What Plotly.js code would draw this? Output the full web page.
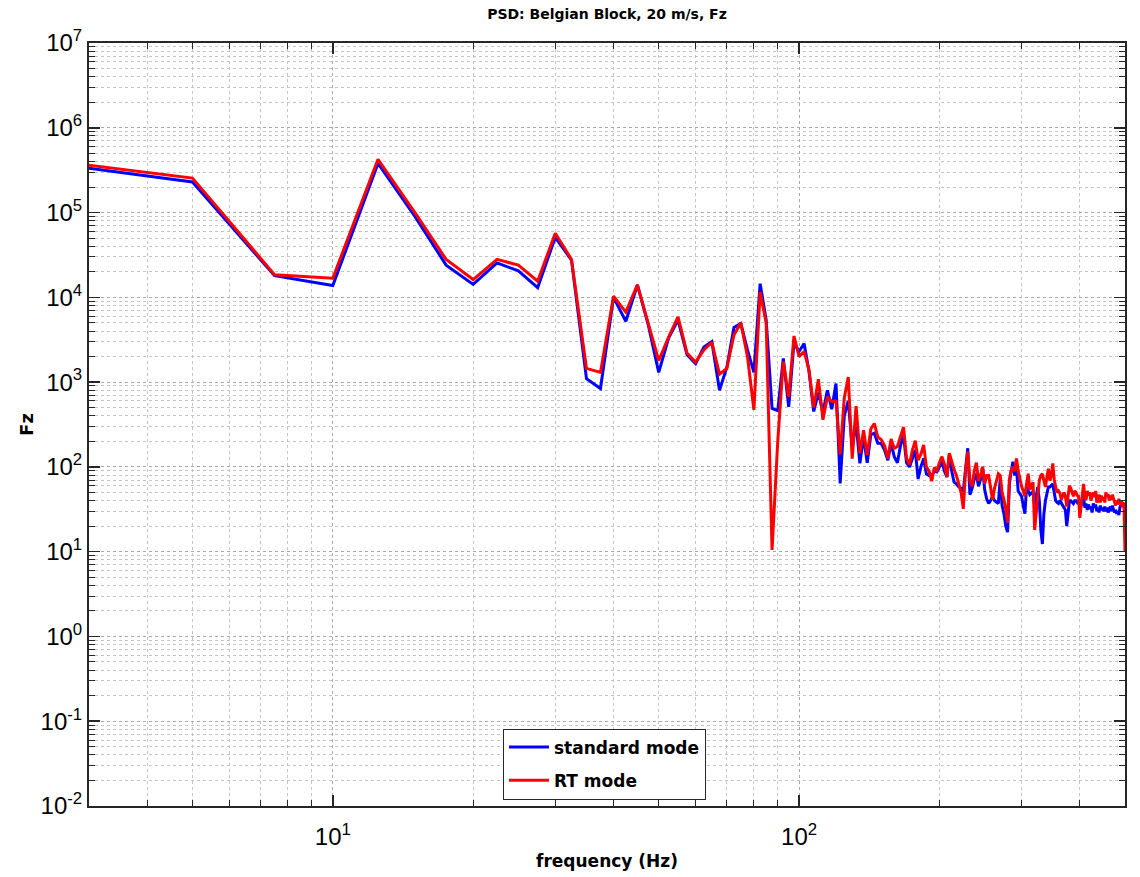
<!DOCTYPE html>
<html>
<head>
<meta charset="utf-8">
<script src="https://cdn.plot.ly/plotly-3.0.1.min.js"></script>
<style>
  html, body { margin: 0; padding: 0; background: #ffffff; }
  #psd { width: 1140px; height: 877px; }
</style>
</head>
<body>
<div id="psd"></div>
<script>
// Frequency bins (Hz), 2.5 Hz resolution
const freqHz = [
  2.5, 5, 7.5, 10, 12.5, 15, 17.5, 20, 22.5, 25,
  27.5, 30, 32.5, 35, 37.5, 40, 42.5, 45, 47.5, 50,
  52.5, 55, 57.5, 60, 62.5, 65, 67.5, 70, 72.5, 75,
  77.5, 80, 82.5, 85, 87.5, 90, 92.5, 95, 97.5, 100,
  102.5, 105, 107.5, 110, 112.5, 115, 117.5, 120, 122.5, 125,
  127.5, 130, 132.5, 135, 137.5, 140, 142.5, 145, 147.5, 150,
  152.5, 155, 157.5, 160, 162.5, 165, 167.5, 170, 172.5, 175,
  177.5, 180, 182.5, 185, 187.5, 190, 192.5, 195, 197.5, 200,
  202.5, 205, 207.5, 210, 212.5, 215, 217.5, 220, 222.5, 225,
  227.5, 230, 232.5, 235, 237.5, 240, 242.5, 245, 247.5, 250,
  252.5, 255, 257.5, 260, 262.5, 265, 267.5, 270, 272.5, 275,
  277.5, 280, 282.5, 285, 287.5, 290, 292.5, 295, 297.5, 300,
  302.5, 305, 307.5, 310, 312.5, 315, 317.5, 320, 322.5, 325,
  327.5, 330, 332.5, 335, 337.5, 340, 342.5, 345, 347.5, 350,
  352.5, 355, 357.5, 360, 362.5, 365, 367.5, 370, 372.5, 375,
  377.5, 380, 382.5, 385, 387.5, 390, 392.5, 395, 397.5, 400,
  402.5, 405, 407.5, 410, 412.5, 415, 417.5, 420, 422.5, 425,
  427.5, 430, 432.5, 435, 437.5, 440, 442.5, 445, 447.5, 450,
  452.5, 455, 457.5, 460, 462.5, 465, 467.5, 470, 472.5, 475,
  477.5, 480, 482.5, 485, 487.5, 490, 492.5, 495, 497.5, 500
];

// PSD of Fz, standard mode
const psdStandard = [
  3.8e5, 2.3e5, 1.8e4, 1.38e4, 3.8e5, 9.0e4, 2.4e4, 1.42e4, 2.55e4, 2.05e4,
  1.3e4, 5.1e4, 2.75e4, 1.1e3, 840, 1.0e4, 5.2e3, 1.4e4, 4.7e3, 1.3e3,
  3.3e3, 5.4e3, 2.1e3, 1.65e3, 2.6e3, 3.0e3, 800, 1.5e3, 4.4e3, 4.9e3,
  2.4e3, 1.3e3, 1.45e4, 5.4e3, 490, 460, 1.9e3, 510, 2.9e3, 2.3e3,
  2.85e3, 1.35e3, 450, 750, 440, 800, 480, 960, 64, 400,
  600, 170, 330, 110, 225, 112, 240, 250, 190, 190,
  158, 120, 190, 132, 112, 178, 234, 112, 100, 126,
  158, 72, 100, 126, 83, 79, 79, 89, 87, 100,
  115, 89, 76, 141, 89, 66, 63, 58, 56, 52,
  89, 166, 47, 56, 71, 83, 59, 71, 100, 54,
  42, 37, 40, 45, 40, 38, 37, 72, 35, 28,
  20, 17, 63, 89, 115, 79, 100, 52, 48, 45,
  35, 28, 58, 52, 47, 49, 51, 35, 48, 58,
  40, 18, 12.3, 28, 40, 50, 58, 58, 60, 63,
  50, 40, 38, 37, 40, 37, 35, 33, 31, 20,
  28, 40, 40, 38, 37, 40, 40, 38, 39, 34,
  35, 40, 45, 33, 37, 31, 36, 32, 34, 29,
  37, 33, 36, 30, 33, 29, 35, 31, 33, 30,
  34, 30, 33, 29, 31, 34, 30, 35, 31, 29,
  31, 28, 30, 27, 33, 36, 34, 37, 36, 28
];

// PSD of Fz, RT mode
const psdRT = [
  4.1e5, 2.55e5, 1.85e4, 1.68e4, 4.25e5, 1.0e5, 2.8e4, 1.62e4, 2.8e4, 2.4e4,
  1.55e4, 5.7e4, 2.8e4, 1.45e3, 1.3e3, 1.03e4, 6.7e3, 1.4e4, 4.9e3, 1.8e3,
  3.4e3, 5.9e3, 2.2e3, 1.72e3, 2.4e3, 2.95e3, 1.24e3, 1.45e3, 3.6e3, 5.0e3,
  2.0e3, 470, 1.15e4, 5.0e3, 10.5, 200, 1.75e3, 670, 3.5e3, 2.0e3,
  2.3e3, 1.4e3, 500, 1.08e3, 360, 670, 590, 590, 140, 650,
  1.15e3, 125, 520, 145, 270, 138, 280, 325, 225, 210,
  178, 126, 214, 166, 174, 229, 295, 126, 107, 158,
  204, 120, 141, 182, 100, 89, 68, 98, 91, 112,
  132, 107, 76, 145, 112, 93, 79, 63, 50, 32,
  89, 151, 69, 59, 89, 112, 69, 79, 100, 63,
  79, 79, 56, 41, 56, 71, 83, 79, 50, 41,
  32, 22, 71, 91, 100, 89, 126, 91, 71, 59,
  52, 45, 63, 83, 54, 60, 66, 18, 28, 45,
  69, 79, 83, 69, 58, 76, 95, 69, 79, 110,
  71, 58, 50, 52, 49, 41, 46, 50, 45, 34,
  45, 60, 56, 48, 45, 52, 50, 46, 45, 25,
  35, 52, 63, 44, 41, 52, 46, 50, 40, 45,
  50, 44, 52, 38, 42, 47, 38, 46, 40, 44,
  38, 50, 44, 48, 40, 46, 41, 47, 42, 38,
  35, 40, 36, 42, 37, 40, 34, 38, 36, 10
];

// Axis ticks
const xTickVals = [10, 100];
const xTickText = ['10<sup>1</sup>', '10<sup>2</sup>'];
const yTickVals = [1e-2, 1e-1, 1e0, 1e1, 1e2, 1e3, 1e4, 1e5, 1e6, 1e7];
const yTickText = ['10<sup>-2</sup>', '10<sup>-1</sup>', '10<sup>0</sup>', '10<sup>1</sup>',
  '10<sup>2</sup>', '10<sup>3</sup>', '10<sup>4</sup>', '10<sup>5</sup>',
  '10<sup>6</sup>', '10<sup>7</sup>'];

// minor log ticks (2..9 in each decade)
function minorLogTicks(loExp, hiExp) {
  const out = [];
  for (let e = loExp; e < hiExp; e++) {
    for (let m = 2; m <= 9; m++) out.push(m * Math.pow(10, e));
  }
  return out;
}

const labelFont = 'DejaVu Sans, sans-serif';
const tickFont = 'Liberation Sans Narrow, Liberation Sans, Arial, sans-serif';

const traces = [
  {
    x: freqHz, y: psdStandard, type: 'scatter', mode: 'lines',
    name: 'standard mode', legendgroup: 'std',
    line: { color: '#0000ff', width: 3 }
  },
  {
    x: freqHz, y: psdRT, type: 'scatter', mode: 'lines',
    name: 'RT mode', legendgroup: 'rt',
    line: { color: '#ff0000', width: 3 }
  }
];

const axisCommon = {
  type: 'log',
  showline: true,
  linecolor: '#262626',
  linewidth: 2,
  mirror: 'allticks',
  ticks: 'inside',
  ticklen: 11,
  tickwidth: 1.5,
  tickcolor: '#262626',
  tickmode: 'array',
  showgrid: true,
  gridcolor: '#a8a8a8',
  gridwidth: 1,
  griddash: 'dot',
  zeroline: false,
  tickfont: { family: tickFont, size: 24, color: '#000000' }
};

const layout = {
  width: 1140,
  height: 877,
  paper_bgcolor: '#ffffff',
  plot_bgcolor: '#ffffff',
  margin: { l: 89, r: 15, t: 43, b: 71 },
  showlegend: true,
  title: {
    text: 'PSD: Belgian Block, 20 m/s, Fz',
    font: { family: labelFont, size: 14, color: '#000000', weight: 'bold' },
    x: 0.5, xref: 'paper', xanchor: 'center',
    y: 0.984, yref: 'container', yanchor: 'middle'
  },
  xaxis: Object.assign({}, axisCommon, {
    range: [Math.log10(3), Math.log10(500)],
    tickvals: xTickVals,
    ticktext: xTickText,
    ticklabelstandoff: 8,
    title: {
      text: 'frequency (Hz)',
      font: { family: labelFont, size: 17, color: '#000000', weight: 'bold' },
      standoff: 6
    },
    minor: {
      tickmode: 'array',
      tickvals: minorLogTicks(0, 3),
      ticks: 'inside', ticklen: 6, tickwidth: 1, tickcolor: '#262626',
      showgrid: true, gridcolor: '#c4c4c4', gridwidth: 1, griddash: 'dot'
    }
  }),
  yaxis: Object.assign({}, axisCommon, {
    range: [-2, 7],
    tickvals: yTickVals,
    ticktext: yTickText,
    title: {
      text: 'Fz',
      font: { family: labelFont, size: 18, color: '#000000', weight: 'bold' },
      standoff: 2
    },
    minor: {
      tickmode: 'array',
      tickvals: minorLogTicks(-2, 7),
      ticks: 'inside', ticklen: 6, tickwidth: 1, tickcolor: '#262626',
      showgrid: true, gridcolor: '#c4c4c4', gridwidth: 1, griddash: 'dot'
    }
  }),
  legend: {
    x: 0.3996, xanchor: 'left',
    y: 0.0085, yanchor: 'bottom',
    bgcolor: '#ffffff',
    bordercolor: '#262626',
    borderwidth: 1,
    itemwidth: 40,
    tracegroupgap: 8,
    font: { family: labelFont, size: 17, color: '#000000', weight: 'bold' }
  }
};

Plotly.newPlot('psd', traces, layout, { displayModeBar: false, staticPlot: true });
</script>
</body>
</html>
